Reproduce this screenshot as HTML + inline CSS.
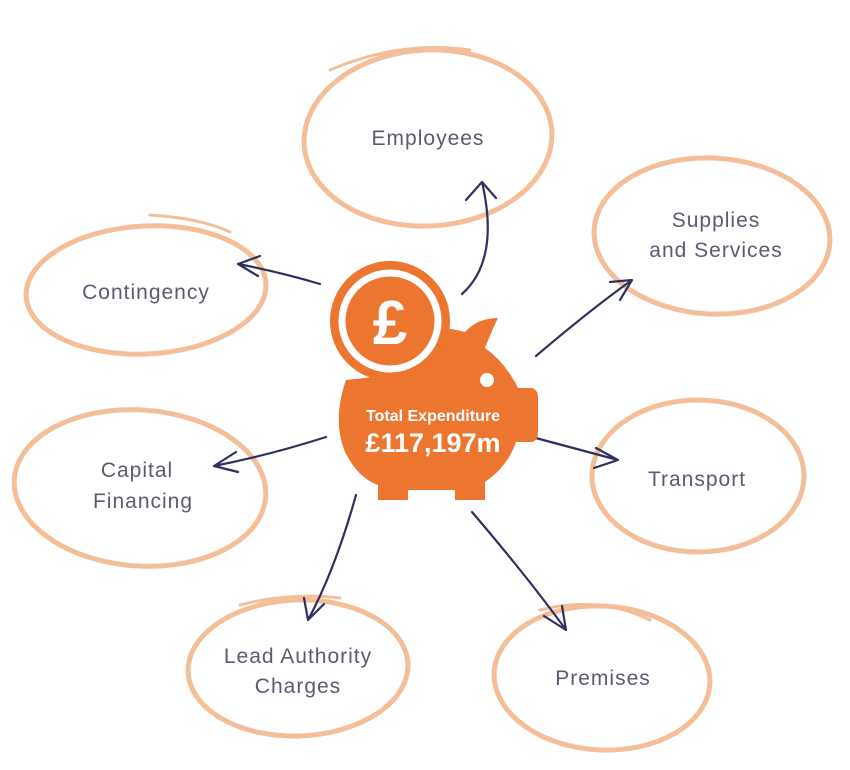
<!DOCTYPE html>
<html><head><style>
body{margin:0;background:#fff;}
svg{display:block}
.e{fill:none;stroke:#f4bf98;stroke-width:5;stroke-linecap:round}
.e2{fill:none;stroke:#f4bf98;stroke-width:3;stroke-linecap:round}
.a{fill:none;stroke:#2e3160;stroke-width:2.2;stroke-linecap:round;stroke-linejoin:round}
.t{font-family:"Liberation Sans",sans-serif;font-size:21px;fill:#5a5b72;text-anchor:middle;letter-spacing:1px}
</style></head><body>
<svg width="850" height="770" viewBox="0 0 850 770">
<ellipse class="e" cx="428" cy="138" rx="124" ry="88" transform="rotate(-3 428 138)"/>
<path class="e2" d="M330 70 Q400 40 470 50"/>
<ellipse class="e" cx="712" cy="236" rx="118" ry="78" transform="rotate(3 712 236)"/>
<ellipse class="e" cx="146" cy="290" rx="120" ry="64" transform="rotate(-3 146 290)"/>
<path class="e2" d="M150 215 Q200 218 230 232"/>
<ellipse class="e" cx="140" cy="488" rx="126" ry="78" transform="rotate(4 140 488)"/>
<ellipse class="e" cx="698" cy="476" rx="106" ry="76"/>
<ellipse class="e" cx="298" cy="668" rx="110" ry="68" transform="rotate(-2 298 668)"/>
<path class="e2" d="M240 605 Q290 592 340 598"/>
<ellipse class="e" cx="602" cy="678" rx="108" ry="72" transform="rotate(3 602 678)"/>
<path class="e2" d="M540 610 Q600 595 650 620"/>
<text class="t" x="428" y="145">Employees</text>
<text class="t" x="716" y="227">Supplies</text>
<text class="t" x="716" y="257">and Services</text>
<text class="t" x="146" y="299">Contingency</text>
<text class="t" x="137" y="477">Capital</text>
<text class="t" x="143" y="508">Financing</text>
<text class="t" x="697" y="486">Transport</text>
<text class="t" x="298" y="663">Lead Authority</text>
<text class="t" x="298" y="693">Charges</text>
<text class="t" x="603" y="685">Premises</text>
<path class="a" d="M462 294 Q500 260 482 182 M466 200 L482 182 L496 198"/>
<path class="a" d="M536 356 Q590 310 632 280 M610 282 L632 280 L620 300"/>
<path class="a" d="M320 284 Q280 272 238 264 M260 256 L238 264 L258 276"/>
<path class="a" d="M326 437 Q270 455 214 466 M236 452 L214 466 L238 472"/>
<path class="a" d="M532 437 Q580 450 618 460 M596 448 L618 460 L594 468"/>
<path class="a" d="M356 495 Q335 570 308 620 M304 598 L308 620 L324 604"/>
<path class="a" d="M472 512 Q530 580 566 630 M544 616 L566 630 L562 606"/>
<g fill="#ec762f">
<path d="M346 380 Q332 420 345 452 Q358 478 378 485 L378 500 L408 500 L408 490 L455 490 L455 500 L485 500 L485 482 Q508 466 516 442 L530 442 Q538 442 538 432 L538 398 Q538 388 530 388 L518 388 Q505 362 485 348 Q492 330 498 318 Q478 318 465 332 Q440 325 412 330 L400 374 Z"/>
<circle cx="390" cy="321" r="60"/>
</g>
<circle cx="390" cy="321" r="48" fill="none" stroke="#fff" stroke-width="7"/>
<circle cx="487" cy="380" r="7" fill="#fff"/>
<text x="390" y="344" font-family="Liberation Sans,sans-serif" font-weight="bold" font-size="62" fill="#fff" text-anchor="middle">£</text>
<text x="433" y="421" font-family="Liberation Sans,sans-serif" font-weight="bold" font-size="16" fill="#fff" text-anchor="middle">Total Expenditure</text>
<text x="433" y="452" font-family="Liberation Sans,sans-serif" font-weight="bold" font-size="27" fill="#fff" text-anchor="middle">£117,197m</text>
</svg>
</body></html>
